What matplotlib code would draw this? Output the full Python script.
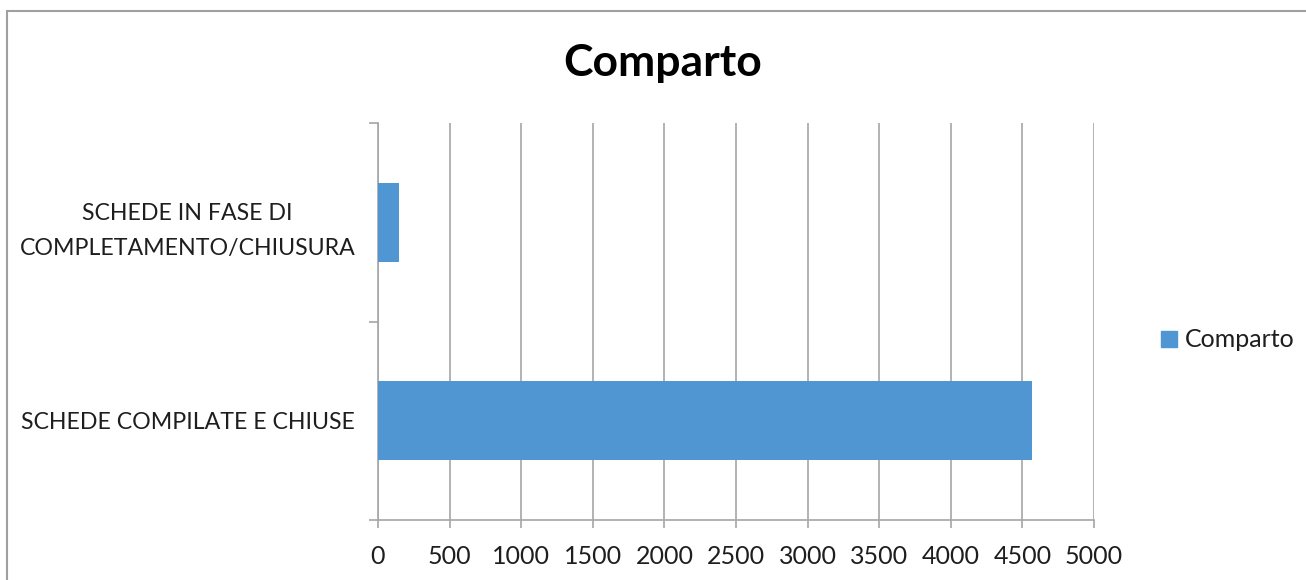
import matplotlib.pyplot as plt
from matplotlib.lines import Line2D
from matplotlib.patches import Rectangle

plt.rcParams['font.family'] = ['Lato', 'DejaVu Sans']

# categories from bottom to top
categorie = ['SCHEDE COMPILATE E CHIUSE',
             'SCHEDE IN FASE DI\nCOMPLETAMENTO/CHIUSURA']
valori = [4570, 145]
serie = 'Comparto'
tick_x = [0, 500, 1000, 1500, 2000, 2500, 3000, 3500, 4000, 4500, 5000]

blu = '#4f96d2'
grigio = '#a6a6a6'
testo = '#1e1e1e'


def disegna():
    fig = plt.figure(figsize=(13.06, 5.8), dpi=100)
    ax = fig.add_axes([0.2894, 0.1034, 0.5483, 0.6845])

    pos = list(range(len(categorie)))
    ax.barh(pos, valori, height=0.4, color=blu, zorder=3)

    ax.set_xlim(0, 5000)
    ax.set_ylim(-0.5, len(categorie) - 0.5)
    ax.set_xticks(tick_x)
    ax.set_xticklabels([str(t) for t in tick_x])
    ax.set_yticks(pos)
    ax.set_yticklabels(categorie, ha='center', multialignment='center',
                       linespacing=1.8)
    ax.set_yticks([p - 0.5 for p in range(len(categorie) + 1)], minor=True)

    ax.grid(axis='x', color=grigio, linewidth=1.2, zorder=0)
    for lato in ['top', 'right']:
        ax.spines[lato].set_visible(False)
    for lato in ['left', 'bottom']:
        ax.spines[lato].set_color(grigio)
        ax.spines[lato].set_linewidth(1.2)

    ax.tick_params(axis='x', direction='out', length=6, width=1.2,
                   color=grigio, labelsize=18, labelcolor=testo, pad=12)
    ax.tick_params(axis='y', which='major', length=0, labelsize=16.7,
                   labelcolor=testo, pad=137)
    ax.tick_params(axis='y', which='minor', direction='out', length=6.5,
                   width=1.2, color=grigio)

    fig.text(0.5077, 0.892, 'Comparto', ha='center', va='center',
             fontsize=32, fontweight='bold', color='black')

    maniglia = Line2D([], [], marker='s', linestyle='none', markersize=11,
                      markerfacecolor=blu, markeredgecolor=blu)
    fig.legend([maniglia], [serie], loc='center left',
               bbox_to_anchor=(0.870, 0.414), frameon=False, fontsize=18,
               handlelength=0.8, handletextpad=0.25, labelcolor=testo)

    # chart area border
    bordo = Rectangle((7 / 1306, -0.1), 1.2, 1.1 - 11 / 580,
                      transform=fig.transFigure, fill=False,
                      edgecolor='#a0a0a0', linewidth=1.5)
    fig.patches.append(bordo)

    fig.savefig('out.png', dpi=100, facecolor='white')


if __name__ == '__main__':
    disegna()
